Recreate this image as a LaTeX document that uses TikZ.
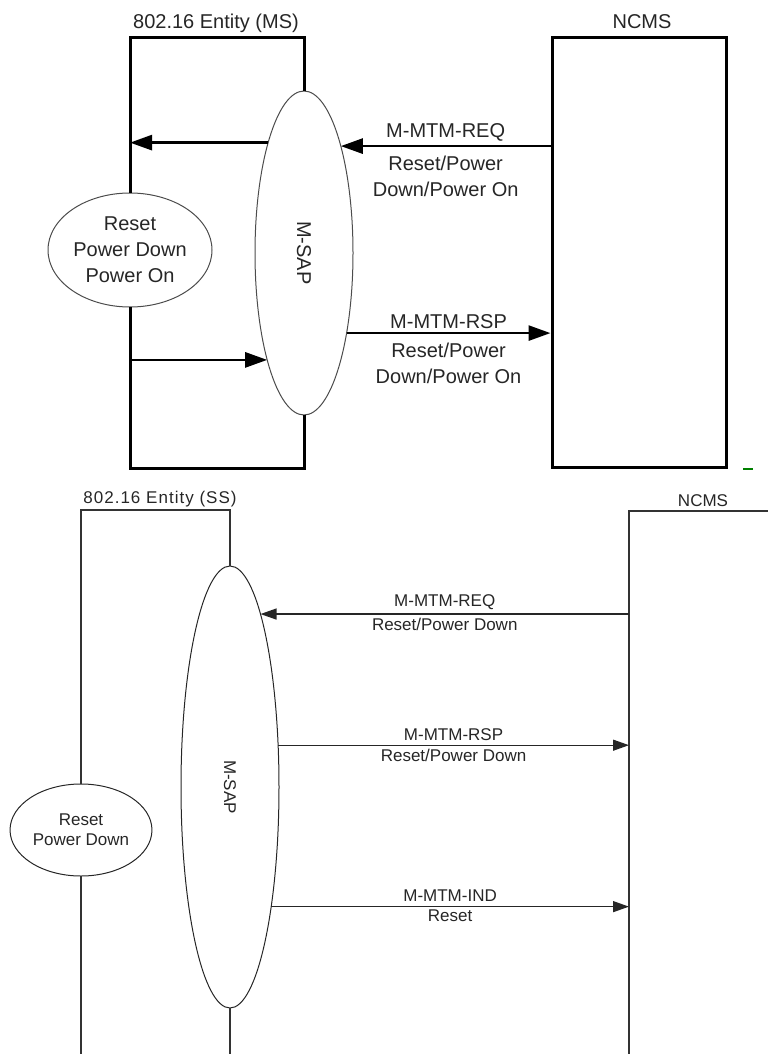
\documentclass[tikz,border=0pt]{standalone}
\usepackage{fontspec}
\setmainfont{Liberation Sans}
\usetikzlibrary{arrows.meta,shapes.geometric,positioning}

\tikzset{
    blk/.style={draw, line width=3pt},
    sap/.style={draw=black!70, ellipse, line width=1pt, inner sep=0pt, outer sep=0pt},
    lbl/.style={font=\fontsize{20}{26}\selectfont, align=center, text=black!85},
    slbl/.style={font=\fontsize{17}{20}\selectfont, align=center, text=black!85, inner sep=2pt},
    ln/.style={draw=black!80, line width=1.3pt},
    flow/.style={-{Triangle[length=22pt, width=15pt]}, line width=2.7pt},
    sflow/.style={-{Triangle[length=16pt, width=11pt]}, line width=1.3pt, draw=black!85},
  }

\begin{document}
\begin{tikzpicture}[x=1pt, y=-1pt]
        \useasboundingbox (0,0) rectangle (768,1054);
        % MS side
        \begin{scope}
            \coordinate (msTL) at (130,38);
            \coordinate (msBL) at (130,468);
            \node[sap, minimum width=98pt, minimum height=324pt] (msap) at (304,253) {};
            \node[lbl, rotate=-90] (msaplbl) at (msap.center) {M-SAP};
            \node[sap, lbl, minimum width=164pt, minimum height=114pt] (mode) at (130,250) {Reset\\Power Down\\Power On};
            \node[lbl, anchor=base] (mstitle) at (216,29) {802.16 Entity (MS)};
            \draw[blk] (msap.north) |- (msTL) -- (mode.north);
            \draw[blk] (mode.south) -- (msBL) -| (msap.south);
            \node[blk, minimum width=174pt, minimum height=429pt] (ncms) at (639,252.5) {};
            \node[lbl, anchor=base] (ncmslbl) at (642,29) {NCMS};
            \draw[flow] (msap.108.7) -- (msap.108.7 -| msTL);
            \draw[flow] (msTL |- msap.251) -- (msap.251);
            \draw[flow] (ncms.west |- msap.71.1) -- (msap.71.1)
                node[lbl, midway, above] (req) {M-MTM-REQ}
                node[lbl, midway, below=5pt] (reqarg) {Reset/Power\\Down/Power On};
            \draw[flow] (msap.-62) -- (msap.-62 -| ncms.west)
                node[lbl, midway, above] (rsp) {M-MTM-RSP}
                node[lbl, midway, below=5pt] (rsparg) {Reset/Power\\Down/Power On};
            \draw[green!50!black, line width=1.5pt] (743,469) -- (753,469);
        \end{scope}
        % SS side
        \begin{scope}
            \coordinate (ssTL) at (81,510);
            \coordinate (sbase) at (0,1054);
            \coordinate (sncTL) at (629,511);
            \coordinate (sncTR) at (768,511);
            \coordinate (sncB) at (629,1054);
            \node[sap, draw=black!85, minimum width=98pt, minimum height=442pt] (ssap) at (230,787) {};
            \node[slbl, rotate=-90] (ssaplbl) at (ssap.center) {M-SAP};
            \node[sap, slbl, draw=black!85, minimum width=140pt, minimum height=92pt] (smode) at (81,830) {Reset\\Power Down};
            \node[slbl, anchor=base] (sstitle) at (160,503) {\addfontfeatures{LetterSpace=6}802.16 Entity (SS)};
            \node[slbl, anchor=base] (sncmslbl) at (703,506) {NCMS};
            \draw[ln] (ssap.north) |- (ssTL) -- (smode.north);
            \draw[ln] (smode.south) -- (smode.south |- sbase);
            \draw[ln] (ssap.south) -- (ssap.south |- sbase);
            \draw[ln] (sncB) -- (sncTL) -- (sncTR);
            \draw[sflow] (sncB |- ssap.80.2) -- (ssap.80.2)
                node[slbl, midway, above=2pt] (sreq) {M-MTM-REQ}
                node[slbl, midway, below=1pt] (sreqarg) {Reset/Power Down};
            \draw[sflow] (ssap.41.8) -- (ssap.41.8 -| sncB)
                node[slbl, midway, above=2pt] (srsp) {M-MTM-RSP}
                node[slbl, midway, below=1pt] (srsparg) {Reset/Power Down};
            \draw[sflow] (ssap.-71.5) -- (ssap.-71.5 -| sncB)
                node[slbl, midway, above=2pt] (sind) {M-MTM-IND}
                node[slbl, midway, below=1pt] (sindarg) {Reset};
        \end{scope}
    \end{tikzpicture}
\end{document}
